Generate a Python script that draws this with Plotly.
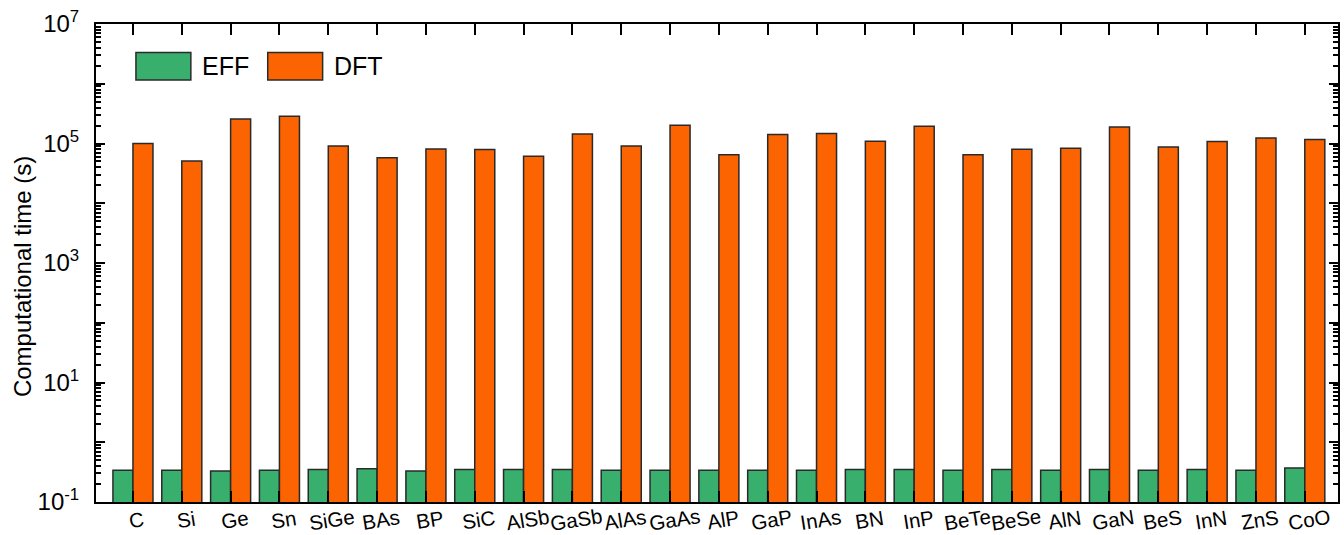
import plotly.graph_objects as go

materials = ["C", "Si", "Ge", "Sn", "SiGe", "BAs", "BP", "SiC", "AlSb", "GaSb",
             "AlAs", "GaAs", "AlP", "GaP", "InAs", "BN", "InP", "BeTe", "BeSe",
             "AlN", "GaN", "BeS", "InN", "ZnS", "CoO"]

eff_time = [0.34, 0.34, 0.33, 0.34, 0.35, 0.36, 0.33, 0.35, 0.35, 0.35,
            0.34, 0.34, 0.34, 0.34, 0.34, 0.35, 0.35, 0.34, 0.35,
            0.34, 0.35, 0.34, 0.35, 0.34, 0.37]

dft_time = [1.00e5, 5.1e4, 2.58e5, 2.86e5, 9.1e4, 5.8e4, 8.1e4, 7.9e4, 6.1e4, 1.44e5,
            9.1e4, 2.02e5, 6.5e4, 1.41e5, 1.47e5, 1.09e5, 1.95e5, 6.5e4, 8.0e4,
            8.3e4, 1.89e5, 8.7e4, 1.08e5, 1.24e5, 1.17e5]

EFF_COLOR = "#38AF6C"
DFT_COLOR = "#FB6400"
EDGE = "#2a2a2a"
FONT = "Liberation Sans, Arial, sans-serif"

x_idx = list(range(len(materials)))

fig = go.Figure()
fig.add_trace(go.Bar(x=x_idx, y=eff_time, name="EFF", marker_color=EFF_COLOR,
                     marker_line=dict(color=EDGE, width=1.5), showlegend=False))
fig.add_trace(go.Bar(x=x_idx, y=dft_time, name="DFT", marker_color=DFT_COLOR,
                     marker_line=dict(color=EDGE, width=1.5), showlegend=False))
# carrier for the overlaid tick-only axis (unlabelled even decades)
fig.add_trace(go.Scatter(x=[0], y=[1.0], yaxis="y2", mode="markers",
                         marker=dict(opacity=0), hoverinfo="skip", showlegend=False))

# labelled odd decades, unlabelled even decades, minor ticks 2..9
labelled_exps = [-1, 1, 3, 5, 7]
labelled_vals = [10.0 ** e for e in labelled_exps]
labelled_text = [f"10<sup>{e}</sup>" for e in labelled_exps]
plain_vals = [10.0 ** e for e in [0, 2, 4, 6]]
minor_vals = [m * 10.0 ** e for e in range(-1, 7) for m in range(2, 10)]

PLOT_L, PLOT_R, PLOT_T, PLOT_B = 96, 1340, 24, 502
PW, PH = PLOT_R - PLOT_L, PLOT_B - PLOT_T

fig.update_layout(
    width=1344, height=535,
    margin=dict(l=PLOT_L, r=1344 - PLOT_R, t=PLOT_T, b=535 - PLOT_B),
    paper_bgcolor="white", plot_bgcolor="white",
    barmode="group", bargap=0.18, bargroupgap=0,
    font=dict(family=FONT, color="black"),
    xaxis=dict(
        tickmode="array", tickvals=x_idx, showticklabels=False,
        range=[-0.757, 24.68],
        showline=True, linecolor="black", linewidth=2, mirror="ticks",
        ticks="inside", ticklen=11, tickwidth=2, tickcolor="black",
        showgrid=False, zeroline=False,
    ),
    yaxis=dict(
        type="log", range=[-1, 7],
        tickmode="array", tickvals=labelled_vals, ticktext=labelled_text,
        showline=True, linecolor="black", linewidth=2, mirror="ticks",
        ticks="inside", ticklen=9, tickwidth=2, tickcolor="black",
        tickfont=dict(size=24), ticklabelstandoff=10,
        minor=dict(tickmode="array", tickvals=minor_vals, ticks="inside",
                   ticklen=5, tickwidth=1.5, tickcolor="black", showgrid=False),
        showgrid=False, zeroline=False,
    ),
    yaxis2=dict(
        type="log", range=[-1, 7], overlaying="y", anchor="x", side="left",
        tickmode="array", tickvals=plain_vals, showticklabels=False,
        showline=False, mirror="ticks",
        ticks="inside", ticklen=9, tickwidth=2, tickcolor="black",
        showgrid=False, zeroline=False,
    ),
)

# y-axis title
fig.add_annotation(xref="paper", yref="paper", x=(22 - PLOT_L) / PW,
                   y=(PLOT_B - 277) / PH, text="Computational time (s)",
                   textangle=-90, showarrow=False, xanchor="center",
                   yanchor="middle", font=dict(size=24))

# tilted category labels under each group
for i, name in zip(x_idx, materials):
    fig.add_annotation(x=i, xref="x", yref="paper", y=(PLOT_B - 519) / PH,
                       text=name, textangle=-9, showarrow=False, xshift=4,
                       xanchor="center", yanchor="middle", font=dict(size=20.5))

# legend drawn as large swatches with labels
legend_items = [("EFF", EFF_COLOR, 136, 191, 200), ("DFT", DFT_COLOR, 268, 323, 332)]
for label, color, x0, x1, xt in legend_items:
    fig.add_shape(type="rect", xref="paper", yref="paper",
                  x0=(x0 - PLOT_L) / PW, x1=(x1 - PLOT_L) / PW,
                  y0=(PLOT_B - 80) / PH, y1=(PLOT_B - 52.5) / PH,
                  fillcolor=color, line=dict(color=EDGE, width=1.5))
    fig.add_annotation(xref="paper", yref="paper", x=(xt - PLOT_L) / PW,
                       y=(PLOT_B - 66) / PH, text=label, showarrow=False,
                       xanchor="left", yanchor="middle", font=dict(size=25))

fig.write_html("out.html")
